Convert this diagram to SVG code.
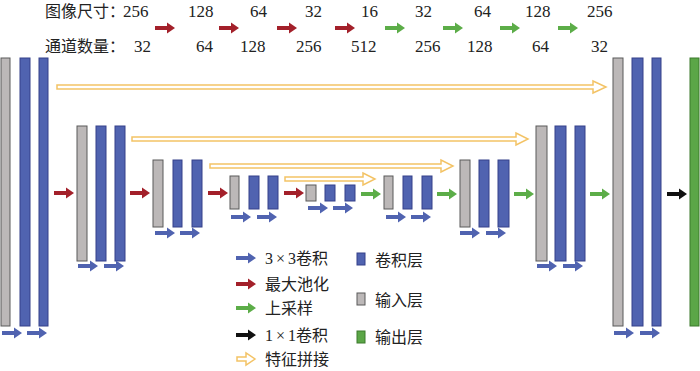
<svg xmlns="http://www.w3.org/2000/svg" xmlns:xlink="http://www.w3.org/1999/xlink" width="700" height="371" viewBox="0 0 700 371">
<style>
.g{fill:#bcb8b8;stroke:#5a5a5a;stroke-width:1}
.b{fill:#5063b0;stroke:#34418a;stroke-width:1}
.o{fill:#5ba647;stroke:#3c7a2d;stroke-width:1}
.ab{fill:#5063b0}
.ar{fill:#a3202a}
.ag{fill:#5cad48}
.ak{fill:#111}
.ay{fill:#fff;stroke:#f3c366;stroke-width:1.5}
.t{font-family:"Liberation Serif","Noto Sans CJK SC",serif;font-size:16px;fill:#222}
.n{font-family:"Liberation Serif","Noto Sans CJK SC",serif;font-size:17px;fill:#222}
</style>
<defs>
<path id="arr" d="M0,-2 H12 V-5.5 L20,0 L12,5.5 V2 H0 Z"/>
</defs>
<rect width="700" height="371" fill="#fff"/>

<g id="header">
<text class="t" x="45" y="17">图像尺寸：</text>
<text class="n" x="123" y="17">256</text>
<text class="n" x="188" y="17">128</text>
<text class="n" x="250" y="17">64</text>
<text class="n" x="305" y="17">32</text>
<text class="n" x="361" y="17">16</text>
<text class="n" x="415" y="17">32</text>
<text class="n" x="474" y="17">64</text>
<text class="n" x="525" y="17">128</text>
<text class="n" x="587" y="17">256</text>
<text class="t" x="45" y="52">通道数量：</text>
<text class="n" x="134" y="52">32</text>
<text class="n" x="196" y="52">64</text>
<text class="n" x="240" y="52">128</text>
<text class="n" x="296" y="52">256</text>
<text class="n" x="351" y="52">512</text>
<text class="n" x="415" y="52">256</text>
<text class="n" x="467" y="52">128</text>
<text class="n" x="532" y="52">64</text>
<text class="n" x="591" y="52">32</text>
<use href="#arr" class="ar" x="155" y="28"/>
<use href="#arr" class="ar" x="219" y="28"/>
<use href="#arr" class="ar" x="277" y="28"/>
<use href="#arr" class="ar" x="335" y="28"/>
<use href="#arr" class="ag" x="385" y="28"/>
<use href="#arr" class="ag" x="443" y="28"/>
<use href="#arr" class="ag" x="500" y="28"/>
<use href="#arr" class="ag" x="558" y="28"/>
</g>

<g id="c1"><rect class="g" x="1" y="58" width="9" height="268"/><rect class="b" x="20" y="58" width="10" height="268"/><rect class="b" x="39" y="58" width="9" height="268"/></g>
<g id="c2"><rect class="g" x="77" y="126" width="10" height="135"/><rect class="b" x="96" y="126" width="10" height="135"/><rect class="b" x="115" y="126" width="10" height="135"/></g>
<g id="c3"><rect class="g" x="153" y="160" width="10" height="67"/><rect class="b" x="173" y="160" width="9" height="67"/><rect class="b" x="192" y="160" width="10" height="67"/></g>
<g id="c4"><rect class="g" x="230" y="176" width="9" height="33"/><rect class="b" x="249" y="176" width="10" height="33"/><rect class="b" x="268" y="176" width="10" height="33"/></g>
<g id="c5"><rect class="g" x="306" y="185" width="10" height="16"/><rect class="b" x="325" y="185" width="10" height="16"/><rect class="b" x="345" y="185" width="10" height="16"/></g>
<g id="c6"><rect class="g" x="384" y="176" width="9" height="33"/><rect class="b" x="403" y="176" width="9" height="33"/><rect class="b" x="422" y="176" width="10" height="33"/></g>
<g id="c7"><rect class="g" x="460" y="160" width="10" height="67"/><rect class="b" x="479" y="160" width="10" height="67"/><rect class="b" x="498" y="160" width="11" height="67"/></g>
<g id="c8"><rect class="g" x="536" y="126" width="11" height="135"/><rect class="b" x="555" y="126" width="11" height="135"/><rect class="b" x="575" y="126" width="10" height="135"/></g>
<g id="c9"><rect class="g" x="613" y="58" width="10" height="268"/><rect class="b" x="632" y="58" width="11" height="268"/><rect class="b" x="652" y="58" width="9" height="268"/></g>
<g id="out"><rect class="o" x="690" y="58" width="9" height="268"/></g>

<g id="connectors">
<use href="#arr" class="ab" x="2" y="333"/><use href="#arr" class="ab" x="27" y="333"/>
<use href="#arr" class="ab" x="78" y="266"/><use href="#arr" class="ab" x="104" y="266"/>
<use href="#arr" class="ab" x="155" y="233"/><use href="#arr" class="ab" x="180" y="233"/>
<use href="#arr" class="ab" x="231" y="217"/><use href="#arr" class="ab" x="257" y="217"/>
<use href="#arr" class="ab" x="308" y="208"/><use href="#arr" class="ab" x="333" y="208"/>
<use href="#arr" class="ab" x="386" y="217"/><use href="#arr" class="ab" x="411" y="217"/>
<use href="#arr" class="ab" x="460" y="233"/><use href="#arr" class="ab" x="486" y="233"/>
<use href="#arr" class="ab" x="537" y="266"/><use href="#arr" class="ab" x="563" y="266"/>
<use href="#arr" class="ab" x="614" y="333"/><use href="#arr" class="ab" x="640" y="333"/>
<use href="#arr" class="ar" x="54" y="193"/>
<use href="#arr" class="ar" x="130" y="193"/>
<use href="#arr" class="ar" x="208" y="193"/>
<use href="#arr" class="ar" x="284" y="193"/>
<use href="#arr" class="ag" x="361" y="194"/>
<use href="#arr" class="ag" x="437" y="194"/>
<use href="#arr" class="ag" x="514" y="194"/>
<use href="#arr" class="ag" x="590" y="194"/>
<use href="#arr" class="ak" x="667" y="194"/>
<path class="ay" d="M57,85 H593 V81 L606,87 L593,93 V89 H57 Z"/>
<path class="ay" d="M132,137 H516 V133 L528,139 L516,145 V141 H132 Z"/>
<path class="ay" d="M210,164 H441 V160 L453,166 L441,172 V168 H210 Z"/>
<path class="ay" d="M285,177 H363 V173 L375,179 L363,185 V181 H285 Z"/>
</g>

<g id="legend">
<use href="#arr" class="ab" x="236" y="258"/>
<use href="#arr" class="ar" x="236" y="284"/>
<use href="#arr" class="ag" x="236" y="308"/>
<use href="#arr" class="ak" x="236" y="335"/>
<path class="ay" d="M237,357 H246 V353 L255,359 L246,365 V361 H237 Z"/>
<text class="t" x="265" y="264" dx="0 3 3">3×3卷积</text>
<text class="t" x="265" y="290">最大池化</text>
<text class="t" x="265" y="314">上采样</text>
<text class="t" x="265" y="341" dx="0 3 3">1×1卷积</text>
<text class="t" x="265" y="365">特征拼接</text>
<rect class="b" x="357" y="253" width="8" height="12"/>
<rect class="g" x="357" y="293" width="8" height="12"/>
<rect class="o" x="357" y="331" width="8" height="12"/>
<text class="t" x="375" y="266">卷积层</text>
<text class="t" x="375" y="306">输入层</text>
<text class="t" x="375" y="343">输出层</text>
</g>
</svg>
